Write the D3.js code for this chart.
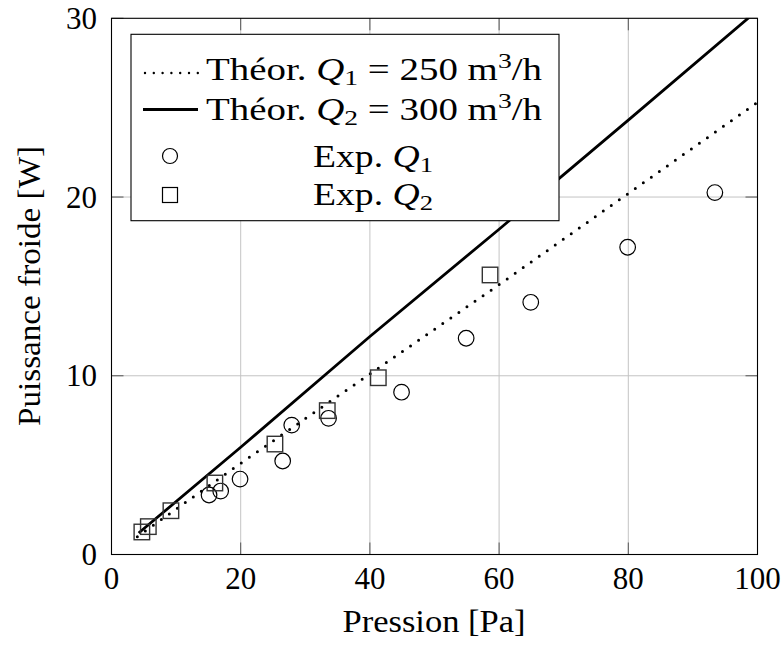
<!DOCTYPE html>
<html>
<head>
<meta charset="utf-8">
<script src="https://cdn.jsdelivr.net/npm/d3@7"></script>
<style>
  html, body { margin: 0; padding: 0; background: #fff; }
  svg { display: block; }
  svg text, svg tspan { font-family: "Liberation Serif", "Times New Roman", serif !important; }
</style>
</head>
<body>
<svg id="chart" width="784" height="646"></svg>
<script>
// ---- data ----
const xTicks = [0, 20, 40, 60, 80, 100];
const yTicks = [0, 10, 20, 30];

const theoQ1Pressure = [4, 20, 40, 60, 80, 100];
const theoQ1Power    = [1.0, 5.1, 10.1, 15.1, 20.2, 25.3];

const theoQ2Pressure = [4.2, 20, 40, 60, 80, 100];
const theoQ2Power    = [1.2, 6.0, 12.2, 18.2, 24.3, 30.45];

const expQ1Pressure = [15.1, 16.9, 19.9, 26.5, 27.9, 33.6, 44.9, 54.9, 64.9, 79.9, 93.4];
const expQ1Power    = [3.33, 3.55, 4.22, 5.23, 7.24, 7.62, 9.08, 12.10, 14.11, 17.19, 20.25];

const expQ2Pressure = [4.7, 5.7, 9.2, 16.0, 25.3, 33.4, 41.3, 58.6];
const expQ2Power    = [1.26, 1.56, 2.45, 4.0, 6.18, 8.05, 9.89, 15.64];

const xLabel = "Pression [Pa]";
const yLabel = "Puissance froide [W]";

// ---- layout ----
const FONT = "Liberation Serif, Times New Roman, serif";
const svg = d3.select("#chart");
const L = 111.5, R = 757.5, T = 18.3, B = 554.5;
const x = d3.scaleLinear().domain([0, 100]).range([L, R]);
const y = d3.scaleLinear().domain([0, 30]).range([B, T]);

function txt(sel) { return sel.style("font-family", FONT, "important"); }

// grid
const grid = svg.append("g");
grid.selectAll("line.gx").data(xTicks.filter(d => d > 0 && d < 100)).join("line")
  .attr("x1", d => x(d)).attr("x2", d => x(d)).attr("y1", T).attr("y2", B)
  .attr("stroke", "#c4c4c4").attr("stroke-width", 1);
grid.selectAll("line.gy").data(yTicks.filter(d => d > 0 && d < 30)).join("line")
  .attr("y1", d => y(d)).attr("y2", d => y(d)).attr("x1", L).attr("x2", R)
  .attr("stroke", "#c4c4c4").attr("stroke-width", 1);

// ticks (inward, on all sides)
const tk = 12;
const ticks = svg.append("g").attr("stroke", "#555").attr("stroke-width", 1);
xTicks.forEach(d => {
  ticks.append("line").attr("x1", x(d)).attr("x2", x(d)).attr("y1", B).attr("y2", B - tk);
  ticks.append("line").attr("x1", x(d)).attr("x2", x(d)).attr("y1", T).attr("y2", T + tk);
});
yTicks.forEach(d => {
  ticks.append("line").attr("y1", y(d)).attr("y2", y(d)).attr("x1", L).attr("x2", L + tk);
  ticks.append("line").attr("y1", y(d)).attr("y2", y(d)).attr("x1", R).attr("x2", R - tk);
});

// lines (clipped to plot area)
svg.append("clipPath").attr("id", "plotclip")
  .append("rect").attr("x", L).attr("y", T).attr("width", R - L).attr("height", B - T);
const plot = svg.append("g").attr("clip-path", "url(#plotclip)");
const line = d3.line().x(d => x(d[0])).y(d => y(d[1]));
plot.append("path")
  .datum(d3.zip(theoQ1Pressure, theoQ1Power))
  .attr("d", line).attr("fill", "none").attr("stroke", "#000")
  .attr("stroke-width", 3).attr("stroke-linecap", "round")
  .attr("stroke-dasharray", "0 9.8");
plot.append("path")
  .datum(d3.zip(theoQ2Pressure, theoQ2Power))
  .attr("d", line).attr("fill", "none").attr("stroke", "#000")
  .attr("stroke-width", 2.8);

// markers
plot.selectAll("circle.e1").data(d3.zip(expQ1Pressure, expQ1Power)).join("circle")
  .attr("cx", d => x(d[0])).attr("cy", d => y(d[1])).attr("r", 7.8)
  .attr("fill", "none").attr("stroke", "#000").attr("stroke-width", 1.2);
const s = 15.5;
plot.selectAll("rect.e2").data(d3.zip(expQ2Pressure, expQ2Power)).join("rect")
  .attr("x", d => x(d[0]) - s / 2).attr("y", d => y(d[1]) - s / 2)
  .attr("width", s).attr("height", s)
  .attr("fill", "none").attr("stroke", "#333").attr("stroke-width", 1.4);

// axis frame
svg.append("rect").attr("x", L).attr("y", T).attr("width", R - L).attr("height", B - T)
  .attr("fill", "none").attr("stroke", "#000").attr("stroke-width", 1.1);

// tick labels
const fs = 31;
txt(svg.append("g").selectAll("text").data(xTicks).join("text")
  .attr("x", d => x(d)).attr("y", 589).attr("text-anchor", "middle")
  .style("font-size", fs + "px")).text(d => d);
txt(svg.append("g").selectAll("text").data(yTicks).join("text")
  .attr("x", 97).attr("y", d => y(d) + 10.5).attr("text-anchor", "end")
  .style("font-size", fs + "px")).text(d => d);

// axis labels
txt(svg.append("text").attr("x", 434).attr("y", 631.5).attr("text-anchor", "middle")
  .style("font-size", "32px")
  .attr("textLength", 183).attr("lengthAdjust", "spacingAndGlyphs"))
  .text(xLabel);
txt(svg.append("text").attr("transform", "translate(39.5,286) rotate(-90)")
  .attr("text-anchor", "middle").style("font-size", "32px")
  .attr("textLength", 280).attr("lengthAdjust", "spacingAndGlyphs"))
  .text(yLabel);

// legend
const lg = svg.append("g");
lg.append("rect").attr("x", 131).attr("y", 34.3).attr("width", 428).attr("height", 186.4)
  .attr("fill", "#fff").attr("stroke", "#000").attr("stroke-width", 1.1);

lg.append("line").attr("x1", 145).attr("x2", 198).attr("y1", 73).attr("y2", 73)
  .attr("stroke", "#000").attr("stroke-width", 2.4).attr("stroke-linecap", "round")
  .attr("stroke-dasharray", "0 8.8");
lg.append("line").attr("x1", 143).attr("x2", 198).attr("y1", 109.5).attr("y2", 109.5)
  .attr("stroke", "#000").attr("stroke-width", 2.8);
lg.append("circle").attr("cx", 170).attr("cy", 156).attr("r", 7.5)
  .attr("fill", "none").attr("stroke", "#000").attr("stroke-width", 1.2);
lg.append("rect").attr("x", 170 - 7.5).attr("y", 195 - 7.5).attr("width", 15).attr("height", 15)
  .attr("fill", "none").attr("stroke", "#000").attr("stroke-width", 1.2);

function theoLabel(yb, sub, val) {
  const t = txt(lg.append("text").attr("x", 206).attr("y", yb)
    .style("font-size", fs + "px")
    .attr("textLength", 336).attr("lengthAdjust", "spacingAndGlyphs"));
  t.append("tspan").text("Théor. ");
  t.append("tspan").style("font-style", "italic").text("Q");
  t.append("tspan").style("font-size", "22px").attr("dy", 5).text(sub);
  t.append("tspan").attr("dy", -5).text(" = " + val + " m");
  t.append("tspan").style("font-size", "22px").attr("dy", -12).text("3");
  t.append("tspan").attr("dy", 12).text("/h");
}
theoLabel(80, "1", "250");
theoLabel(120, "2", "300");

function expLabel(yb, sub) {
  const t = txt(lg.append("text").attr("x", 313).attr("y", yb)
    .style("font-size", fs + "px")
    .attr("textLength", 120).attr("lengthAdjust", "spacingAndGlyphs"));
  t.append("tspan").text("Exp. ");
  t.append("tspan").style("font-style", "italic").text("Q");
  t.append("tspan").style("font-size", "22px").attr("dy", 5).text(sub);
}
expLabel(166.5, "1");
expLabel(205, "2");
</script>
</body>
</html>
